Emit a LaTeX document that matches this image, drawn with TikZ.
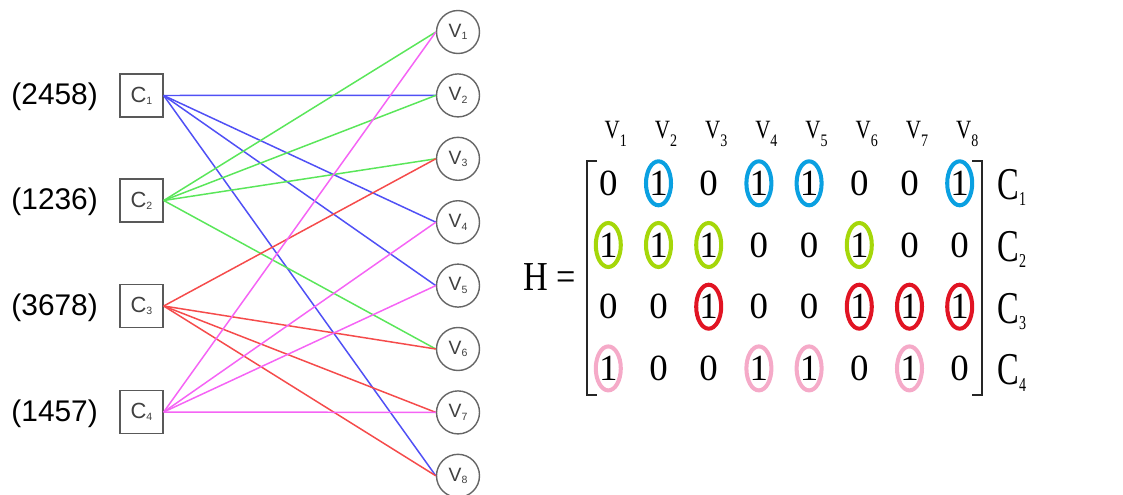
\documentclass[tikz,border=0pt]{standalone}
\usepackage{fontspec}
\setmainfont{Liberation Serif}
\newfontfamily\arial{Liberation Sans}
\usetikzlibrary{positioning}

\definecolor{edgeblue}{RGB}{80,80,245}
\definecolor{edgegreen}{RGB}{90,230,90}
\definecolor{edgered}{RGB}{245,75,75}
\definecolor{edgepink}{RGB}{245,100,245}
\definecolor{ringblue}{RGB}{10,160,225}
\definecolor{ringgreen}{RGB}{165,215,10}
\definecolor{ringred}{RGB}{225,20,35}
\definecolor{ringpink}{RGB}{245,170,200}

% lowered index for V_i and C_i
\newcommand\lowidx[2]{\raisebox{#1}{#2}}

\tikzset{
  chk/.style={draw=black!65, line width=.8pt, minimum size=.86cm, inner sep=0pt,
    font=\arial\fontsize{12.5}{12}\selectfont, text=black!75},
  var/.style={draw=black!60, line width=.8pt, circle, minimum size=.86cm, inner sep=0pt,
    font=\arial\fontsize{11}{11}\selectfont, text=black!75},
  deg/.style={font=\arial\fontsize{17}{20}\selectfont, anchor=east},
  ent/.style={font=\fontsize{21}{21}\selectfont, inner sep=0pt},
  ring/.style={line width=2.3pt},
  hdr/.style={font=\fontsize{12}{12}\selectfont, anchor=base west, inner sep=0pt},
  rowlab/.style={font=\fontsize{18.5}{18}\selectfont, anchor=base west, inner sep=0pt},
}

\begin{document}
\begin{tikzpicture}[x=.02cm,y=-.02cm]
\useasboundingbox (0,0) rectangle (1123,494);

% check nodes
\foreach \i/\y/\n in {1/95.5/2458, 2/200.5/1236, 3/306/3678, 4/412/1457}{
  \node[chk] (c\i) at (141.5,\y) {C\lowidx{-1pt}{\fontsize{6}{6}\selectfont\i}};
  \node[deg] (l\i) at (104,\y+1.5) {(\n)};
}

% variable nodes
\foreach \i in {1,...,8}
  \node[var] (v\i) at (458,{32+63.4*(\i-1)}) {V\lowidx{-1.5pt}{\fontsize{6}{6}\selectfont\i}};

% edges of the Tanner graph
\foreach \v in {2,4,5,8} \draw[edgeblue, line width=.85pt] (c1.east) -- (v\v.west);
\foreach \v in {1,2,3,6} \draw[edgegreen, line width=.85pt] (c2.east) -- (v\v.west);
\foreach \v in {3,6,7,8} \draw[edgered, line width=.85pt] (c3.east) -- (v\v.west);
\foreach \v in {1,4,5,7} \draw[edgepink, line width=.85pt] (c4.east) -- (v\v.west);

% parity check matrix
\node[font=\fontsize{19.5}{20}\selectfont, inner sep=0pt] (H) at (550,277)
  {\scalebox{1}[1.2]{H =}};
\draw[line width=1pt, black!85] (597,161) -- (587,161) -- (587,395) -- (597,395);
\draw[line width=1pt, black!85] (972,161) -- (982,161) -- (982,395) -- (972,395);

\foreach \c in {1,...,8}
  \node[hdr] (h\c) at ({604.3+50.2*(\c-1)},138)
    {\scalebox{1}[1.25]{V\lowidx{-4pt}{\footnotesize\c}}};

\foreach \vals/\col [count=\r] in {{0,1,0,1,1,0,0,1}/ringblue,
                                   {1,1,1,0,0,1,0,0}/ringgreen,
                                   {0,0,1,0,0,1,1,1}/ringred,
                                   {1,0,0,1,1,0,1,0}/ringpink}{
  \node[rowlab] (r\r) at (997,{183.3+61.7*(\r-1)+16.5})
    {\scalebox{1}[1.4]{C\lowidx{-2.5pt}{\footnotesize\r}}};
  \foreach \e [count=\c] in \vals{
    \node[ent] (m\r\c) at ({608.3+50.2*(\c-1)},{183.3+61.7*(\r-1)}) {\e};
    \ifnum\e=1
      \draw[ring,\col] (m\r\c) ellipse [x radius=.25cm, y radius=.44cm];
    \fi
  }
}
\end{tikzpicture}
\end{document}
